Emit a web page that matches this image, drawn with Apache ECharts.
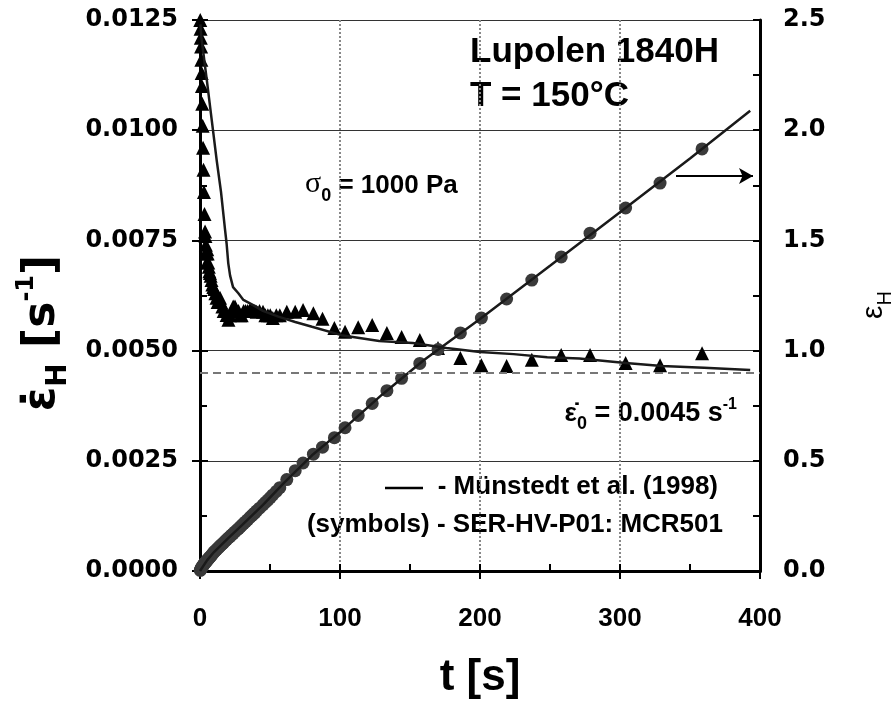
<!DOCTYPE html>
<html><head><meta charset="utf-8">
<script src="https://cdn.jsdelivr.net/npm/echarts@6/dist/echarts.min.js"></script>
<style>html,body{margin:0;padding:0;background:#fff;}#c{width:893px;height:702px;}</style>
</head><body><div id="c"></div>
<script>
// ---- data ----
const times = [0.2, 0.4, 0.6, 0.8, 1.0, 1.2, 1.4, 1.6, 1.9, 2.2, 2.5, 2.8, 3.2, 3.6,
  3.9, 4.2, 4.5, 4.8, 5.2, 5.5, 5.9, 6.3, 6.7, 7.1, 7.6, 8.2, 8.8, 9.5,
  10.2, 11.0, 11.8, 12.6, 13.4, 14.3, 15.1, 16.0, 16.9, 17.9, 19.0, 20.3,
  21.4, 22.5, 23.7, 25.0, 26.2, 27.5, 28.6, 29.8, 31.1, 32.5, 34.0, 35.7,
  37.0, 38.0, 39.2, 40.5, 42.5, 45.0, 46.7, 48.5, 50.2, 52.0, 54.5, 57.0,
  62.0, 68.0, 73.6, 81.0, 87.5, 96.0, 103.6, 113.0, 123.0, 133.5, 144.0, 157.0,
  170.0, 186.0, 201.0, 219.0, 237.0, 258.0, 278.6, 304.0, 328.6, 358.6];
const rateVals = [0.0125, 0.0123, 0.0121, 0.0119, 0.0116, 0.0113, 0.0110, 0.0106, 0.0101, 0.0096, 0.0091, 0.0086, 0.0081, 0.0077,
  0.0076, 0.0074, 0.0072, 0.0070, 0.0073, 0.0072, 0.0070, 0.0069, 0.0068, 0.00676, 0.0067, 0.0066, 0.0065, 0.00644,
  0.0064, 0.0063, 0.0062, 0.0061, 0.0061, 0.0062, 0.0061, 0.0060, 0.0059, 0.0059, 0.00581, 0.0057,
  0.0058, 0.0059, 0.0060, 0.0060, 0.0059, 0.0059, 0.0058, 0.0058, 0.0059, 0.0059, 0.0059, 0.00592,
  0.0059, 0.0059, 0.0059, 0.00588, 0.0059, 0.00588, 0.0058, 0.0058, 0.0058, 0.00574, 0.0058, 0.0058,
  0.00588, 0.00588, 0.00592, 0.00585, 0.00572, 0.00551, 0.00543, 0.00553, 0.00558, 0.0054, 0.00531, 0.00524,
  0.00506, 0.00483, 0.00467, 0.00465, 0.00479, 0.0049, 0.0049, 0.00472, 0.00467, 0.00494];
const strainVals = [0.003, 0.005, 0.008, 0.010, 0.012, 0.015, 0.017, 0.019, 0.022, 0.025, 0.028, 0.031, 0.034, 0.037,
  0.039, 0.041, 0.043, 0.046, 0.049, 0.051, 0.054, 0.057, 0.060, 0.063, 0.066, 0.071, 0.076, 0.082,
  0.087, 0.092, 0.097, 0.102, 0.107, 0.113, 0.118, 0.123, 0.129, 0.135, 0.142, 0.150,
  0.156, 0.163, 0.170, 0.178, 0.185, 0.192, 0.199, 0.207, 0.215, 0.223, 0.232, 0.243,
  0.251, 0.257, 0.264, 0.273, 0.285, 0.300, 0.311, 0.322, 0.333, 0.345, 0.361, 0.378,
  0.415, 0.455, 0.490, 0.530, 0.562, 0.605, 0.650, 0.706, 0.760, 0.818, 0.874, 0.942,
  1.005, 1.080, 1.148, 1.234, 1.320, 1.425, 1.533, 1.647, 1.760, 1.915];
const modelRateT = [0.3, 1, 2.6, 5, 8.5, 12, 15, 17.9, 19, 20.2, 21.5, 23.6, 27.4, 31, 37, 45, 56, 68, 80, 101, 128, 152, 176, 200, 224, 248, 271, 304, 330, 360, 393];
const modelRateV = [0.0124, 0.0121, 0.0117, 0.0111, 0.0102, 0.0093, 0.0086, 0.00774, 0.00743, 0.00698, 0.0067, 0.00644, 0.0063, 0.00615, 0.00605, 0.0059, 0.00577, 0.00565, 0.00554, 0.00535, 0.00522, 0.00517, 0.00506, 0.00497, 0.00492, 0.00485, 0.00482, 0.00472, 0.00465, 0.00461, 0.00456];
const modelStrainT = [0, 5, 10, 20, 30, 45, 60, 80, 100, 130, 160, 200, 250, 300, 350, 393];
const modelStrainV = [0, 0.048, 0.086, 0.148, 0.208, 0.300, 0.400, 0.525, 0.630, 0.800, 0.957, 1.143, 1.385, 1.628, 1.872, 2.088];
const xTickStep = 100, leftTickStep = 0.0025, rightTickStep = 0.5;
const refRate = 0.0045;
const arrowFrom = [340, 1.792], arrowTo = [395, 1.792];

const zip = (a, b) => a.map((v, i) => [v, b[i]]);

const chart = echarts.init(document.getElementById('c'), null, {renderer: 'canvas'});
const black = '#000';
const lblX = {fontFamily: 'Liberation Sans', fontWeight: 'bold', fontSize: 26, color: black};
const lblY = {fontFamily: 'DejaVu Sans', fontWeight: 'bold', fontSize: 24, color: black};

chart.setOption({
  backgroundColor: '#fff',
  animation: false,
  grid: {left: 200, right: 133, top: 20, bottom: 131},
  xAxis: [
    {type: 'value', min: 0, max: 400, interval: xTickStep, position: 'bottom',
     axisLine: {lineStyle: {color: black, width: 3}},
     axisTick: {inside: false, length: 8, lineStyle: {color: black, width: 2}},
     axisLabel: Object.assign({margin: 35}, lblX),
     splitLine: {show: true, lineStyle: {color: '#888', type: 'dotted', width: 2}}},
    {type: 'value', min: 0, max: 400, interval: xTickStep / 2, position: 'bottom',
     axisLine: {lineStyle: {color: black, width: 3}},
     axisTick: {inside: true, length: 7, lineStyle: {color: black, width: 2}},
     axisLabel: {show: false}, splitLine: {show: false}},
    {type: 'value', min: 0, max: 400, position: 'top',
     axisLine: {lineStyle: {color: black, width: 3}},
     axisTick: {show: false}, axisLabel: {show: false}, splitLine: {show: false}}
  ],
  yAxis: [
    {type: 'value', min: 0, max: 0.0125, interval: leftTickStep, position: 'left',
     axisLine: {show: true, lineStyle: {color: black, width: 3}},
     axisTick: {show: true, inside: false, length: 8, lineStyle: {color: black, width: 2}},
     axisLabel: Object.assign({margin: 22, formatter: v => v.toFixed(4)}, lblY),
     splitLine: {show: true, lineStyle: {color: '#333', width: 1.2}}},
    {type: 'value', min: 0, max: 0.0125, interval: leftTickStep / 2, position: 'left',
     axisLine: {show: true, lineStyle: {color: black, width: 3}},
     axisTick: {show: true, inside: true, length: 7, lineStyle: {color: black, width: 2}},
     axisLabel: {show: false}, splitLine: {show: false}},
    {type: 'value', min: 0, max: 2.5, interval: rightTickStep, position: 'right',
     axisLine: {show: true, lineStyle: {color: black, width: 3}},
     axisTick: {show: true, inside: false, length: 8, lineStyle: {color: black, width: 2}},
     axisLabel: Object.assign({margin: 23, formatter: v => v.toFixed(1)}, lblY),
     splitLine: {show: false}},
    {type: 'value', min: 0, max: 2.5, interval: rightTickStep / 2, position: 'right',
     axisLine: {show: true, lineStyle: {color: black, width: 3}},
     axisTick: {show: true, inside: true, length: 7, lineStyle: {color: black, width: 2}},
     axisLabel: {show: false}, splitLine: {show: false}}
  ],
  series: [
    {name: 'rate data', type: 'scatter', xAxisIndex: 0, yAxisIndex: 0,
     data: zip(times, rateVals), symbol: 'triangle', symbolSize: 14,
     itemStyle: {color: '#000', opacity: 1}, z: 3,
     markLine: {silent: true, symbol: 'none', label: {show: false},
       lineStyle: {color: '#777', width: 2, type: [8, 5]},
       data: [[{coord: [0, refRate]}, {coord: [400, refRate]}]]}},
    {name: 'strain data', type: 'scatter', xAxisIndex: 0, yAxisIndex: 2,
     data: zip(times, strainVals), symbol: 'circle', symbolSize: 13,
     itemStyle: {color: '#3a3a3a', opacity: 1}, z: 3,
     markLine: {silent: true, symbol: ['none', 'arrow'], symbolSize: [12, 14],
       lineStyle: {color: black, width: 2, type: 'solid'}, label: {show: false},
       data: [[{coord: arrowFrom}, {coord: arrowTo}]]}},
    {name: 'rate model', type: 'line', xAxisIndex: 0, yAxisIndex: 0,
     data: zip(modelRateT, modelRateV), showSymbol: false, symbol: 'none',
     lineStyle: {color: '#1a1a1a', width: 2.5}, z: 4},
    {name: 'strain model', type: 'line', xAxisIndex: 0, yAxisIndex: 2,
     data: zip(modelStrainT, modelStrainV), showSymbol: false, symbol: 'none',
     lineStyle: {color: '#1a1a1a', width: 2.5}, z: 4}
  ],
  graphic: [
    {type: 'text', x: 470, y: 52, style: {text: 'Lupolen 1840H', font: 'bold 35px "Liberation Sans"', fill: black, textVerticalAlign: 'middle'}},
    {type: 'text', x: 470, y: 96, style: {text: 'T = 150°C', font: 'bold 35px "Liberation Sans"', fill: black, textVerticalAlign: 'middle'}},
    {type: 'text', x: 305, y: 184, style: {
      text: '{g|σ}{s|0}{n| = 1000 Pa}', textVerticalAlign: 'middle', fill: black,
      rich: {g: {font: '30px "Liberation Serif"', lineHeight: 30, verticalAlign: 'bottom'},
             s: {font: 'bold 18px "Liberation Sans"', lineHeight: 30, verticalAlign: 'bottom', padding: [0, 0, -6, 0]},
             n: {font: 'bold 26px "Liberation Sans"', lineHeight: 30, verticalAlign: 'bottom'}}}},
    {type: 'text', x: 737, y: 412, style: {
      text: '{g|ε̇}{s|0}{n| = 0.0045 s}{p|-1}', textAlign: 'right', textVerticalAlign: 'middle', fill: black,
      rich: {g: {font: 'bold 26px "Liberation Sans"', lineHeight: 30, verticalAlign: 'bottom'},
             s: {font: 'bold 18px "Liberation Sans"', lineHeight: 30, verticalAlign: 'bottom', padding: [0, 0, -6, 0]},
             n: {font: 'bold 27px "Liberation Sans"', lineHeight: 30, verticalAlign: 'bottom'},
             p: {font: 'bold 16px "Liberation Sans"', lineHeight: 30, verticalAlign: 'top'}}}},
    {type: 'line', shape: {x1: 385, y1: 488, x2: 423, y2: 488}, style: {stroke: black, lineWidth: 2.5}},
    {type: 'text', x: 718, y: 487, style: {text: '- Münstedt et al. (1998)', font: 'bold 26px "Liberation Sans"', fill: black, textAlign: 'right', textVerticalAlign: 'middle'}},
    {type: 'text', x: 723, y: 525, style: {text: '(symbols) - SER-HV-P01: MCR501', font: 'bold 26px "Liberation Sans"', fill: black, textAlign: 'right', textVerticalAlign: 'middle'}},
    {type: 'text', x: 480, y: 678, style: {text: 't [s]', font: 'bold 44px "Liberation Sans"', fill: black, textAlign: 'center', textVerticalAlign: 'middle'}},
    {type: 'text', x: 40, y: 333, rotation: Math.PI / 2, style: {
      text: '{g|ε̇}{s|H}{n| [s}{p|-1}{n|]}', textAlign: 'center', textVerticalAlign: 'middle', fill: black,
      rich: {g: {font: 'bold 44px "DejaVu Sans"', lineHeight: 50, verticalAlign: 'bottom'},
             s: {font: 'bold 28px "DejaVu Sans"', lineHeight: 50, verticalAlign: 'bottom', padding: [0, 0, -8, 0]},
             n: {font: 'bold 44px "DejaVu Sans"', lineHeight: 50, verticalAlign: 'bottom'},
             p: {font: 'bold 24px "DejaVu Sans"', lineHeight: 50, verticalAlign: 'top'}}}},
    {type: 'text', x: 872, y: 305, rotation: Math.PI / 2, style: {
      text: '{g|ε}{s|H}', textAlign: 'center', textVerticalAlign: 'middle', fill: black,
      rich: {g: {font: '30px "Liberation Sans"', lineHeight: 34, verticalAlign: 'bottom'},
             s: {font: '20px "Liberation Sans"', lineHeight: 34, verticalAlign: 'bottom', padding: [0, 0, -6, 0]}}}}
  ]
});
</script>
</body></html>
